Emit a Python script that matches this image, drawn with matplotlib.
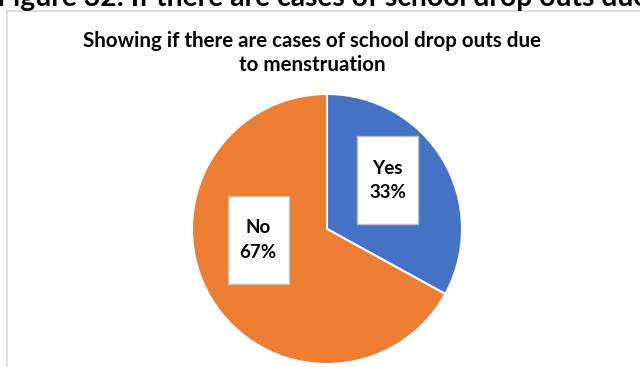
import matplotlib
matplotlib.use("Agg")
import matplotlib.pyplot as plt
from matplotlib.lines import Line2D
from matplotlib.patches import Rectangle

categories = ["Yes", "No"]
shares = [33, 67]
colors = ["#4472C4", "#ED7D31"]

W, H = 640, 367
fig = plt.figure(figsize=(W / 100, H / 100), dpi=100)
fig.patch.set_facecolor("white")

plt.rcParams["font.family"] = ["Lato", "DejaVu Sans"]

def fx(px):
    return px / W

def fy(py):
    return 1 - py / H

# document heading above the chart frame (clipped by the page edge)
fig.text(fx(-3), fy(6), "Figure 32: If there are cases of school drop outs due to menstruation",
         fontsize=20.3, fontweight="bold", color="black", ha="left", va="baseline")

# chart frame
fig.add_artist(Line2D([fx(7), fx(7)], [fy(11), fy(H + 5)], transform=fig.transFigure,
                      color="#d9d9d9", lw=1.2))
fig.add_artist(Line2D([fx(7), fx(W + 5)], [fy(11), fy(11)], transform=fig.transFigure,
                      color="#d9d9d9", lw=1.2))

# chart title
fig.text(fx(312), fy(47), "Showing if there are cases of school drop outs due",
         fontsize=14.8, fontweight="bold", color="#000000", ha="center", va="baseline")
fig.text(fx(312), fy(71), "to menstruation",
         fontsize=14.8, fontweight="bold", color="#000000", ha="center", va="baseline")

# pie axes: centre (327, 229), radius 135 px
cx, cy, r = 327, 229, 135
ax = fig.add_axes([fx(cx - r), fy(cy + r), 2 * r / W, 2 * r / H])
ax.pie(shares, colors=colors, startangle=90, counterclock=False,
       wedgeprops=dict(edgecolor="white", linewidth=1.5))
ax.set_xlim(-1, 1)
ax.set_ylim(-1, 1)
ax.set_aspect("auto")
ax.axis("off")

# data labels in white boxes
label_pos = {"Yes": (0.45, 0.36), "No": (-0.51, -0.08)}
box_w, box_h = 61 / r, 88 / r
for cat, val in zip(categories, shares):
    x, y = label_pos[cat]
    ax.add_patch(Rectangle((x - box_w / 2, y - box_h / 2), box_w, box_h,
                           facecolor="white", edgecolor="#bfbfbf", lw=1.0,
                           clip_on=False, zorder=5))
    ax.text(x, y, f"{cat}\n{val}%", ha="center", va="center", fontsize=13.5,
            fontweight="bold", color="#000000", linespacing=1.55, zorder=6,
            clip_on=False)

fig.savefig("out.png", dpi=100, facecolor="white")
